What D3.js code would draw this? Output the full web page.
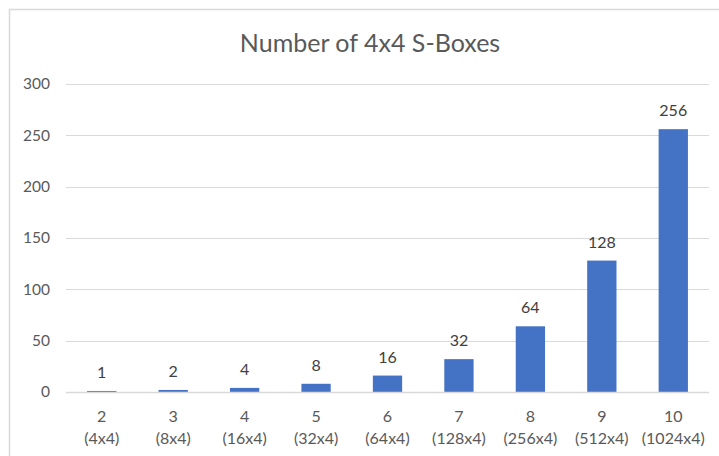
<!DOCTYPE html>
<html>
<head>
<meta charset="utf-8">
<script src="https://cdn.jsdelivr.net/npm/d3@7"></script>
<style>
  body { margin: 0; background: #fff; }
  svg { font-family: Lato, "Open Sans", sans-serif; }
</style>
</head>
<body>
<div id="chart"></div>
<script>
// chart values
const bits = ["2", "3", "4", "5", "6", "7", "8", "9", "10"];
const sizes = ["(4x4)", "(8x4)", "(16x4)", "(32x4)", "(64x4)", "(128x4)", "(256x4)", "(512x4)", "(1024x4)"];
const counts = [1, 2, 4, 8, 16, 32, 64, 128, 256];
const yTicks = [0, 50, 100, 150, 200, 250, 300];
const title = "Number of 4x4 S-Boxes";

const width = 719;
const height = 456;
const margin = { top: 84, right: 10, bottom: 64, left: 66 };

const svg = d3.select("#chart")
    .append("svg")
    .attr("width", width)
    .attr("height", height);

// chart area border (runs off the right and bottom edges)
svg.append("rect")
    .attr("x", 9.5)
    .attr("y", 9.5)
    .attr("width", width + 20)
    .attr("height", height + 20)
    .attr("fill", "none")
    .attr("stroke", "#d9d9d9")
    .attr("stroke-width", 1.5);

const x = d3.scaleBand()
    .domain(bits)
    .range([margin.left, width - margin.right])
    .paddingInner(0.59)
    .paddingOuter(0.295);

const y = d3.scaleLinear()
    .domain([0, 300])
    .range([height - margin.bottom, margin.top]);

// gridlines
svg.append("g")
    .selectAll("line")
    .data(yTicks)
    .join("line")
    .attr("x1", margin.left)
    .attr("x2", width - margin.right)
    .attr("y1", d => Math.round(y(d)) + 0.5)
    .attr("y2", d => Math.round(y(d)) + 0.5)
    .attr("stroke", "#d9d9d9")
    .attr("stroke-width", 1);

// y axis labels
const yAxis = svg.append("g")
    .attr("transform", `translate(${margin.left - 16},0)`)
    .call(d3.axisLeft(y).tickValues(yTicks).tickSize(0).tickPadding(0));
yAxis.select(".domain").remove();
yAxis.selectAll("text")
    .attr("fill", "#595959")
    .attr("font-size", 15.5)
    .attr("font-family", "Lato, 'Open Sans', sans-serif");

// bars
svg.append("g")
    .selectAll("rect")
    .data(counts)
    .join("rect")
    .attr("x", (d, i) => x(bits[i]))
    .attr("y", d => y(d))
    .attr("width", x.bandwidth())
    .attr("height", d => y(0) - y(d))
    .attr("fill", "#4472c4");

// data labels
svg.append("g")
    .selectAll("text")
    .data(counts)
    .join("text")
    .attr("x", (d, i) => x(bits[i]) + x.bandwidth() / 2)
    .attr("y", d => y(d) - 13)
    .attr("text-anchor", "middle")
    .attr("fill", "#404040")
    .attr("font-size", 16)
    .text(d => d);

// x axis: line and two-line labels
svg.append("line")
    .attr("x1", margin.left)
    .attr("x2", width - margin.right)
    .attr("y1", Math.round(y(0)) + 0.5)
    .attr("y2", Math.round(y(0)) + 0.5)
    .attr("stroke", "#d9d9d9")
    .attr("stroke-width", 1.5);

const xLabels = svg.append("g")
    .selectAll("text")
    .data(bits)
    .join("text")
    .attr("x", d => x(d) + x.bandwidth() / 2)
    .attr("y", height - margin.bottom + 30)
    .attr("text-anchor", "middle")
    .attr("fill", "#595959")
    .attr("font-size", 16);
xLabels.append("tspan")
    .attr("x", d => x(d) + x.bandwidth() / 2)
    .text(d => d);
xLabels.append("tspan")
    .attr("x", d => x(d) + x.bandwidth() / 2)
    .attr("dy", 22)
    .text((d, i) => sizes[i]);

// title
svg.append("text")
    .attr("x", 370)
    .attr("y", 52)
    .attr("text-anchor", "middle")
    .attr("fill", "#595959")
    .attr("font-size", 25)
    .text(title);
</script>
</body>
</html>
